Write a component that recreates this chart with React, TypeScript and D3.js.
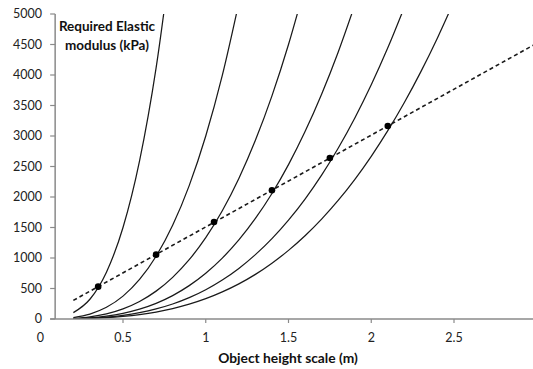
import React from "react";
import * as d3 from "d3";

// Object height scale (m) sample points
const hGrid = [0.2, 0.3, 0.4, 0.5, 0.6, 0.7, 0.8, 0.9, 1.0, 1.1, 1.2, 1.3, 1.4, 1.5, 1.6, 1.7, 1.8, 1.9, 2.0, 2.1, 2.2, 2.3, 2.4, 2.5];

// Required elastic modulus (kPa) for each curve, aligned with hGrid
const curve1 = [105, 324, 768, 1500, 2592, 4116, 6144];
const curve2 = [24, 81, 192, 375, 648, 1029, 1536, 2187, 3000, 3993, 5184];
const curve3 = [11, 36, 85, 167, 288, 457, 683, 972, 1333, 1774, 2304, 2929, 3658, 4500, 5461];
const curve4 = [6, 20, 48, 94, 162, 257, 384, 547, 750, 998, 1296, 1648, 2058, 2531, 3072, 3685, 4374, 5144];
const curve5 = [4, 13, 31, 60, 104, 165, 246, 350, 480, 639, 829, 1055, 1317, 1620, 1966, 2358, 2799, 3292, 3840, 4445, 5111];
const curve6 = [3, 9, 21, 42, 72, 114, 171, 243, 333, 444, 576, 732, 915, 1125, 1365, 1638, 1944, 2286, 2667, 3087, 3549, 4055, 4608, 5208];
const curves = [curve1, curve2, curve3, curve4, curve5, curve6];

// Dashed reference line and its intersection points
const dashH = [0.2, 3.0];
const dashE = [305, 4520];
const dotH = [0.35, 0.7, 1.05, 1.4, 1.75, 2.1];
const dotE = [530, 1055, 1590, 2110, 2640, 3165];

const xTicks = [0, 0.5, 1, 1.5, 2, 2.5];
const xTickLabels = ["0", "0.5", "1", "1.5", "2", "2.5"];
const yTicks = [0, 500, 1000, 1500, 2000, 2500, 3000, 3500, 4000, 4500, 5000];
const yAxisCross = 0.09;

const W = 533;
const H = 369;

export default function App() {
  const x = d3.scaleLinear().domain([0, 3]).range([40.25, 40.25 + 3 * 165.5]);
  const y = d3.scaleLinear().domain([0, 5000]).range([319, 14]);
  const line = d3
    .line<[number, number]>()
    .x((d) => x(d[0]))
    .y((d) => y(d[1]))
    .curve(d3.curveMonotoneX);
  const straight = d3
    .line<[number, number]>()
    .x((d) => x(d[0]))
    .y((d) => y(d[1]));
  const axisX = x(yAxisCross);
  const font = "Lato, 'Open Sans', sans-serif";
  const gray = "#8a8a8a";

  return (
    <div style={{ position: "fixed", left: 0, top: 0, width: W, height: H, background: "#fff" }}>
      <svg width={W} height={H} style={{ display: "block" }}>
        <defs>
          <clipPath id="plot">
            <rect x={axisX} y={y(5000)} width={W - axisX} height={y(0) - y(5000)} />
          </clipPath>
        </defs>
        <rect width={W} height={H} fill="#fff" />

        {/* curves */}
        <g clipPath="url(#plot)">
          {curves.map((c, i) => (
            <path
              key={i}
              d={line(c.map((v, j) => [hGrid[j], v] as [number, number])) || ""}
              fill="none"
              stroke="#1a1a1a"
              strokeWidth={1.25}
            />
          ))}
          <path
            d={straight(dashH.map((h, j) => [h, dashE[j]] as [number, number])) || ""}
            fill="none"
            stroke="#1a1a1a"
            strokeWidth={1.6}
            strokeDasharray="4,3"
          />
        </g>
        {dotH.map((h, i) => (
          <circle key={i} cx={x(h)} cy={y(dotE[i])} r={3.3} fill="#000" />
        ))}

        {/* y axis */}
        <line x1={axisX} x2={axisX} y1={y(5000)} y2={y(0)} stroke={gray} strokeWidth={1.5} />
        {yTicks.map((t) => (
          <g key={t}>
            <line x1={axisX - 5} x2={axisX} y1={y(t)} y2={y(t)} stroke={gray} strokeWidth={1.2} />
            <text
              x={42}
              y={y(t)}
              dy="0.35em"
              textAnchor="end"
              fontFamily={font}
              fontSize={12.5}
              fill="#222"
            >
              {t}
            </text>
          </g>
        ))}

        {/* x axis */}
        <line x1={axisX - 5} x2={W} y1={y(0)} y2={y(0)} stroke={gray} strokeWidth={1.5} />
        {xTicks.map((t, i) => (
          <g key={t}>
            {t > yAxisCross && (
              <line x1={x(t)} x2={x(t)} y1={y(0)} y2={y(0) + 4} stroke={gray} strokeWidth={1.2} />
            )}
            <text
              x={x(t)}
              y={338}
              dy="0.35em"
              textAnchor="middle"
              fontFamily={font}
              fontSize={12.5}
              fill="#222"
            >
              {xTickLabels[i]}
            </text>
          </g>
        ))}

        {/* axis titles */}
        <text x={107} y={26} dy="0.35em" textAnchor="middle" fontFamily={font} fontSize={13.5} fontWeight="bold" fill="#111">
          Required Elastic
        </text>
        <text x={107} y={45} dy="0.35em" textAnchor="middle" fontFamily={font} fontSize={13.5} fontWeight="bold" fill="#111">
          modulus (kPa)
        </text>
        <text x={288} y={358} dy="0.35em" textAnchor="middle" fontFamily={font} fontSize={13.8} fontWeight="bold" fill="#111">
          Object height scale (m)
        </text>
      </svg>
    </div>
  );
}
